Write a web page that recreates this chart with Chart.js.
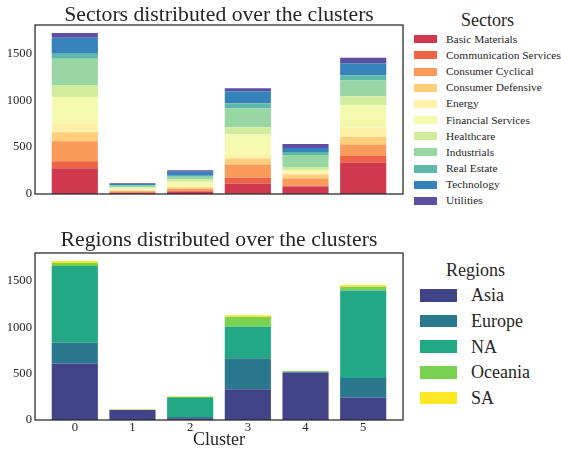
<!DOCTYPE html>
<html>
<head>
<meta charset="utf-8">
<script src="https://cdn.jsdelivr.net/npm/chart.js@4.4.1/dist/chart.umd.min.js"></script>
<style>
  html, body { margin: 0; padding: 0; background: #fff; }
  body { width: 561px; height: 449px; position: relative; overflow: hidden;
         font-family: "Liberation Serif", "Times New Roman", serif; color: #262626; }
  canvas { position: absolute; left: 0; }
  .legend { position: absolute; left: 0; top: 0; }
  .legend .ttl { position: absolute; white-space: nowrap; line-height: 1; }
  .legend .sw { position: absolute; }
</style>
</head>
<body>
<canvas id="sectorChart" width="410" height="200" style="top:0"></canvas>
<canvas id="regionChart" width="410" height="224" style="top:225px"></canvas>
<div id="sectorLegend" class="legend"></div>
<div id="regionLegend" class="legend"></div>
<script>
// cluster ids on the x axis and value ticks on the y axis
const clusters = [0, 1, 2, 3, 4, 5];
const yTicks = [0, 500, 1000, 1500];

// companies per sector in each cluster (first column has no sector and stays out of the legend)
const sectorNames = ['Unclassified', 'Basic Materials', 'Communication Services', 'Consumer Cyclical',
  'Consumer Defensive', 'Energy', 'Financial Services', 'Healthcare', 'Industrials',
  'Real Estate', 'Technology', 'Utilities'];
const unclassifiedSector = [0, 3, 8, 4, 4, 0];
const basicMaterials     = [275, 8, 16, 108, 76, 336];
const communication      = [75, 8, 12, 64, 10, 75];
const consumerCyclical   = [214, 10, 18, 139, 75, 117];
const consumerDefensive  = [96, 8, 15, 64, 43, 79];
const energy             = [104, 8, 18, 50, 22, 100];
const financialServices  = [271, 15, 45, 207, 25, 239];
const healthcare         = [129, 12, 22, 75, 32, 96];
const industrials        = [278, 15, 30, 204, 129, 168];
const realEstate         = [54, 8, 12, 53, 32, 57];
const technology         = [171, 12, 42, 129, 43, 129];
const utilities          = [50, 7, 16, 32, 42, 57];
const sectorValues = [unclassifiedSector, basicMaterials, communication, consumerCyclical,
  consumerDefensive, energy, financialServices, healthcare, industrials,
  realEstate, technology, utilities];
const sectorColors = ['#9e0142', '#d0394d', '#ee6445', '#fa9c59', '#fece7c', '#fff1a7',
  '#f4faad', '#d1ec9c', '#98d6a4', '#5db8a9', '#3683bb', '#5e4fa2'];

// companies per region in each cluster
const regionNames = ['Unclassified', 'Asia', 'Europe', 'NA', 'Oceania', 'SA'];
const unclassifiedRegion = [0, 0, 0, 0, 0, 0];
const asia    = [610, 108, 20, 332, 512, 239];
const europe  = [225, 1, 12, 333, 3, 214];
const na      = [825, 2, 212, 340, 8, 943];
const oceania = [32, 0, 3, 105, 2, 39];
const sa      = [22, 5, 8, 18, 7, 20];
const regionValues = [unclassifiedRegion, asia, europe, na, oceania, sa];
const regionColors = ['#440154', '#414487', '#2a788e', '#22a884', '#7ad151', '#fde725'];

const SERIF = '"Liberation Serif", "Times New Roman", serif';
const INK = '#262626';

// dark frame around the plotting area, drawn over the bars like axes spines
const framePlugin = {
  id: 'frame',
  afterDatasetsDraw(chart) {
    const { ctx, chartArea: a } = chart;
    ctx.save();
    ctx.strokeStyle = INK;
    ctx.lineWidth = 1.25;
    ctx.strokeRect(a.left, a.top, a.right - a.left, a.bottom - a.top);
    ctx.restore();
  }
};

function stackedTotals(series) {
  return clusters.map((_, i) => series.reduce((s, arr) => s + arr[i], 0));
}

function makeChart(id, title, names, values, colors, withXAxis) {
  const ctx = document.getElementById(id).getContext('2d');
  const yMax = Math.max(...stackedTotals(values)) * 1.05;
  const halfBar = 0.4;
  const xMargin = (clusters.length - 1 + 2 * halfBar) * 0.05;

  return new Chart(ctx, {
    type: 'bar',
    data: {
      labels: clusters,
      datasets: names.map((name, k) => ({
        label: name,
        data: values[k],
        backgroundColor: colors[k],
        borderWidth: 0,
        barPercentage: 0.8,
        categoryPercentage: 1.0,
        inLegend: k > 0
      }))
    },
    options: {
      responsive: false,
      animation: false,
      layout: { padding: { left: 0, right: 7, top: 0, bottom: withXAxis ? 0 : 6 } },
      plugins: {
        legend: { display: false },
        tooltip: { enabled: false },
        title: {
          display: true,
          text: title,
          fullSize: false,
          color: INK,
          font: { family: SERIF, size: 21.7, weight: 'normal', lineHeight: '20px' },
          padding: { top: 5, bottom: withXAxis ? 3 : 0 }
        }
      },
      scales: {
        x: {
          type: 'linear',
          stacked: true,
          offset: false,
          display: withXAxis,
          min: clusters[0] - halfBar - xMargin,
          max: clusters[clusters.length - 1] + halfBar + xMargin,
          grid: { display: false, drawTicks: false, offset: false },
          border: { display: false },
          ticks: {
            color: INK, padding: 0, font: { family: SERIF, size: 12.7 },
            callback: v => String(v)
          },
          title: {
            display: withXAxis,
            text: 'Cluster',
            color: INK,
            font: { family: SERIF, size: 18, lineHeight: '18px' },
            padding: { top: 0, bottom: 0 }
          },
          afterBuildTicks: s => { s.ticks = clusters.map(v => ({ value: v })); },
          afterFit: s => {
            s.height = withXAxis ? 29 : 0;
            s.paddingLeft = s.paddingRight = 0;
          }
        },
        y: {
          stacked: true,
          min: 0,
          max: yMax,
          grid: { display: false, drawTicks: false },
          border: { display: false },
          ticks: {
            color: INK, padding: 3, font: { family: SERIF, size: 12.7 },
            callback: v => String(v)
          },
          afterBuildTicks: s => { s.ticks = yTicks.map(v => ({ value: v })); },
          afterFit: s => {
            s.width = 35;
            s.paddingTop = s.paddingBottom = 0;
          }
        }
      }
    },
    plugins: [framePlugin]
  });
}

// legend as plain html next to each panel
function buildLegend(el, chart, title, g) {
  const t = document.createElement('div');
  t.className = 'ttl';
  t.textContent = title;
  t.style.fontSize = g.titleSize + 'px';
  el.appendChild(t);
  t.style.left = (g.titleX - t.offsetWidth / 2) + 'px';
  t.style.top = (g.titleY - t.offsetHeight / 2) + 'px';

  chart.data.datasets.filter(d => d.inLegend).forEach((d, i) => {
    const cy = g.firstY + i * g.pitch;
    const sw = document.createElement('div');
    sw.className = 'sw';
    sw.style.background = d.backgroundColor;
    sw.style.left = g.boxX + 'px';
    sw.style.width = g.boxW + 'px';
    sw.style.height = g.boxH + 'px';
    sw.style.top = (cy - g.boxH / 2) + 'px';
    el.appendChild(sw);

    const lbl = document.createElement('div');
    lbl.className = 'ttl';
    lbl.textContent = d.label;
    lbl.style.fontSize = g.fontSize + 'px';
    el.appendChild(lbl);
    lbl.style.left = g.textX + 'px';
    lbl.style.top = (cy - lbl.offsetHeight / 2) + 'px';
  });
}

const sectorChart = makeChart('sectorChart', 'Sectors distributed over the clusters',
  sectorNames, sectorValues, sectorColors, false);
const regionChart = makeChart('regionChart', 'Regions distributed over the clusters',
  regionNames, regionValues, regionColors, true);

buildLegend(document.getElementById('sectorLegend'), sectorChart, 'Sectors', {
  titleX: 487.5, titleY: 20, titleSize: 18,
  boxX: 414, boxW: 23, boxH: 8, textX: 446, fontSize: 11.4,
  firstY: 39.2, pitch: 16.17
});
buildLegend(document.getElementById('regionLegend'), regionChart, 'Regions', {
  titleX: 475.5, titleY: 270, titleSize: 18,
  boxX: 420, boxW: 37, boxH: 12.7, textX: 471, fontSize: 18,
  firstY: 295.3, pitch: 25.7
});
</script>
</body>
</html>
